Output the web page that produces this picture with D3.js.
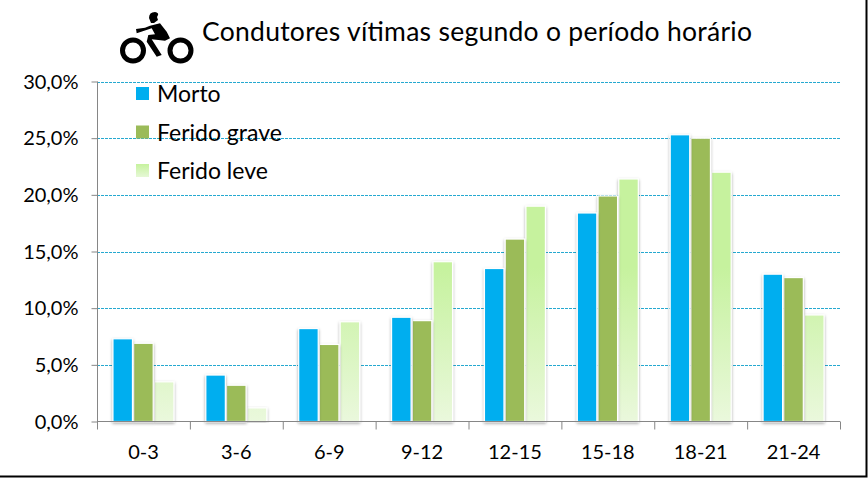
<!DOCTYPE html>
<html><head><meta charset="utf-8">
<script src="https://cdn.jsdelivr.net/npm/d3@7"></script>
<style>
html,body{margin:0;padding:0;background:#fff}
svg{display:block}
text{font-family:Lato,"Open Sans",sans-serif;fill:#000}
</style></head><body>
<svg id="c" width="868" height="478"></svg>
<script>
const categories=["0-3","3-6","6-9","9-12","12-15","15-18","18-21","21-24"];
const seriesNames=["Morto","Ferido grave","Ferido leve"];
const morto=[7.3,4.1,8.2,9.2,13.5,18.4,25.3,13.0];
const feridoGrave=[6.9,3.2,6.8,8.9,16.1,19.9,25.0,12.7];
const feridoLeve=[3.5,1.2,8.8,14.1,19.0,21.4,22.0,9.4];
const yTicks=[0,5,10,15,20,25,30];
const titleText="Condutores vítimas segundo o período horário";

const svg=d3.select("#c");
const defs=svg.append("defs");
const grad=defs.append("linearGradient").attr("id","lg").attr("gradientUnits","userSpaceOnUse");
grad.attr("x1",0).attr("x2",0).attr("y1",80).attr("y2",421);
grad.append("stop").attr("offset","0.55").attr("stop-color","#c6f29e");
grad.append("stop").attr("offset","1").attr("stop-color","#eaf8dc");
const lgl=defs.append("linearGradient").attr("id","lgl").attr("x1",0).attr("y1",0).attr("x2",0).attr("y2",1);
lgl.append("stop").attr("offset","0").attr("stop-color","#c6f29e");
lgl.append("stop").attr("offset","1").attr("stop-color","#e6f8d6");
const f=defs.append("filter").attr("id","sh").attr("x","-30%").attr("y","-10%").attr("width","160%").attr("height","120%");
f.append("feDropShadow").attr("dx",0).attr("dy",1.5).attr("stdDeviation",1.8).attr("flood-color","#000").attr("flood-opacity",0.35);

const x=d3.scaleBand().domain(categories).range([97,840]);
const y=d3.scaleLinear().domain([0,30]).range([421.5,81.5]);
const colors=["#00aeef","#9bbb59","url(#lg)"];
const series=[morto,feridoGrave,feridoLeve];
const x1=d3.scaleBand().domain(d3.range(3)).range([0,x.bandwidth()]).paddingInner(0.0).paddingOuter(0.74);

// frame
svg.append("path").attr("d","M0,476.5H866.5V0").attr("fill","none").attr("stroke","#000").attr("stroke-width",2);

// grid
svg.append("g").selectAll("line").data(yTicks.filter(d=>d>0)).join("line")
  .attr("x1",97).attr("x2",840).attr("y1",d=>Math.round(y(d))+.5).attr("y2",d=>Math.round(y(d))+.5)
  .attr("stroke","#26a9d0").attr("stroke-width",1).attr("stroke-dasharray","3 1");

// axes
const yAxis=d3.axisLeft(y).tickValues(yTicks).tickSize(6).tickPadding(4)
  .tickFormat(d=>d3.format(".1f")(d).replace(".",",")+"%");
const gy=svg.append("g").attr("transform","translate(97.5,0)").call(yAxis);
gy.selectAll("text").attr("font-size",20).attr("fill","#000").attr("dy","0.33em").attr("x",-19);
gy.selectAll("line,path").attr("stroke","#868686");
gy.selectAll(".tick line").attr("x2",-6);
gy.select(".domain").attr("d","M0,81.5V421.5");

const xAxis=d3.axisBottom(x).tickSize(0).tickPadding(23);
const gx=svg.append("g").attr("transform","translate(0,421.5)").call(xAxis);
gx.selectAll("text").attr("font-size",20).attr("fill","#000").attr("dy","0.71em");
gx.select(".domain").attr("d","M97,0H840").attr("stroke","#868686");
gx.append("g").selectAll("line").data(d3.range(categories.length+1)).join("line")
  .attr("x1",i=>97.5+i*x.bandwidth()).attr("x2",i=>97.5+i*x.bandwidth()).attr("y1",0).attr("y2",8).attr("stroke","#868686");

// bars
const groups=svg.append("g").selectAll("g").data(categories).join("g")
  .attr("transform",d=>`translate(${x(d)},0)`);
groups.each(function(c,ci){
  const g=d3.select(this);
  [2,1,0].forEach(s=>{
    g.append("rect")
      .attr("x",x1(s)+0.6).attr("width",x1.bandwidth()-1.2)
      .attr("y",y(series[s][ci])).attr("height",y(0)-y(series[s][ci]))
      .attr("fill",colors[s]).attr("stroke","#fff").attr("stroke-width",1.2)
      .attr("filter","url(#sh)");
  });
});
gx.raise();

// legend
const legY=[94,132.5,171];
const leg=svg.append("g").selectAll("g").data(seriesNames).join("g");
leg.append("rect").attr("x",136).attr("y",(d,i)=>legY[i]-7).attr("width",13).attr("height",13)
  .attr("fill",(d,i)=>i==2?"url(#lgl)":colors[i]);
leg.append("text").attr("x",157).attr("y",(d,i)=>legY[i]).attr("dy","0.36em").attr("font-size",23).text(d=>d);

// title
svg.append("text").attr("x",202).attr("y",41).attr("font-size",26.5).attr("textLength",550).text(titleText);

// motorcycle icon
const ic=svg.append("g").attr("fill","#000");
ic.append("circle").attr("cx",133).attr("cy",50.5).attr("r",10.5).attr("fill","none").attr("stroke","#000").attr("stroke-width",5);
ic.append("circle").attr("cx",180.5).attr("cy",50.5).attr("r",10.5).attr("fill","none").attr("stroke","#000").attr("stroke-width",5);
ic.append("path").attr("d","M149,18 Q149,12 155,12 Q159,13 158,15 L157,17 L158,20 L154,23 L151,23 Z");
ic.append("path").attr("d","M150,25.7 L160,23.3 L166.7,31.7 L170,38.3 L165,40.7 L151.7,39.3 L161.7,55 L156.7,56.7 L146.7,41.7 L148.3,35 L155,34.3 L151.7,28.3 L136.7,33.3 L136,29 L145,27.7 Z");
</script>
</body></html>
